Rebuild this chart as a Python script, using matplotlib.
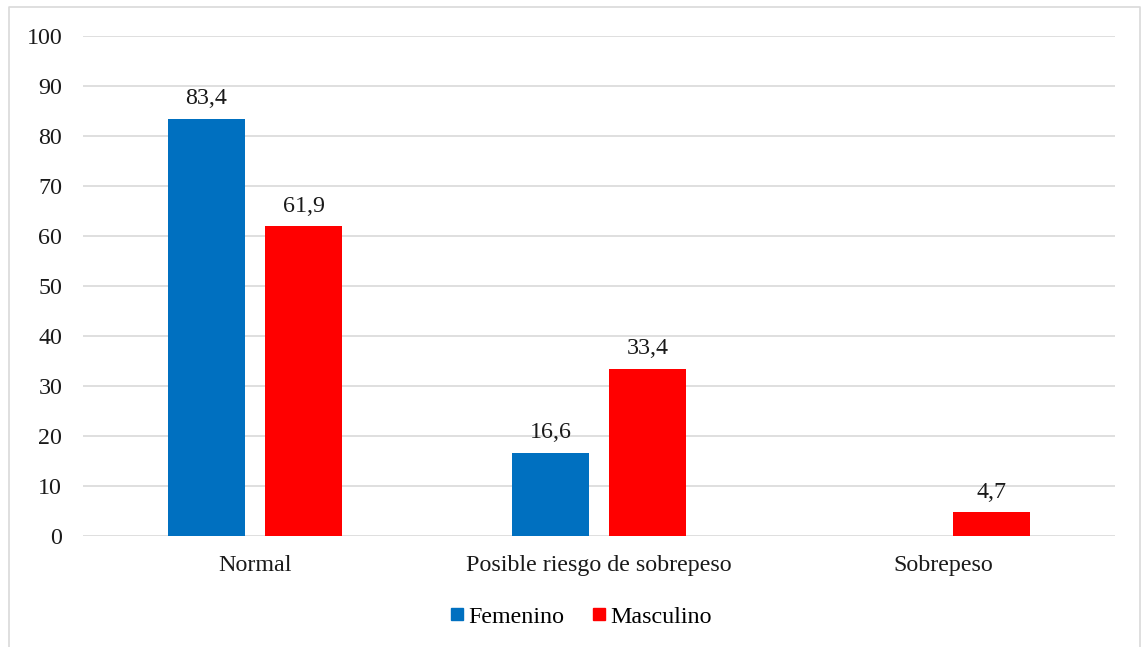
import matplotlib.pyplot as plt
import numpy as np
from matplotlib.lines import Line2D

categories = ["Normal", "Posible riesgo de sobrepeso", "Sobrepeso"]
femenino = [83.4, 16.6, None]
masculino = [61.9, 33.4, 4.7]
series = [("Femenino", femenino, "#0070C0"), ("Masculino", masculino, "#FF0000")]

plt.rcParams["font.family"] = ["Liberation Serif", "DejaVu Serif"]
FS = 17.3

fig = plt.figure(figsize=(11.42, 6.47), dpi=100)
ax = fig.add_axes([0.0727, 0.1716, 0.9037, 0.7728])

x = np.arange(len(categories))
width = 0.224
offsets = [-0.141, 0.141]

for (name, vals, color), off in zip(series, offsets):
    for xi, v in zip(x, vals):
        if v is None:
            continue
        ax.bar(xi + off, v, width=width, color=color, zorder=3)
        ax.annotate(f"{v:.1f}".replace(".", ","), (xi + off, v),
                    xytext=(0, 7), textcoords="offset points",
                    ha="center", va="bottom", fontsize=FS, color="#1a1a1a")

ax.set_xlim(-0.5, len(categories) - 0.5)
ax.set_ylim(0, 100)
ax.set_yticks(range(0, 101, 10))
ax.set_xticks(x)
ax.set_xticklabels(categories)
ax.tick_params(axis="both", length=0, labelsize=FS, colors="#1a1a1a")
ax.tick_params(axis="x", pad=14)
ax.tick_params(axis="y", pad=15)
ax.grid(axis="y", color="#D9D9D9", lw=1.2, zorder=0)
for s in ax.spines.values():
    s.set_visible(False)

handles = [Line2D([], [], marker="s", ls="none", markersize=9,
                  markerfacecolor=c, markeredgecolor=c, label=n)
           for n, _, c in series]
fig.legend(handles=handles, loc="center", bbox_to_anchor=(0.508, 0.047),
           ncol=2, frameon=False, fontsize=FS, handletextpad=0.1,
           columnspacing=1.1, handlelength=0.7)

# chart frame (left, top, right edges)
fx = [9 / 1142, 9 / 1142, 1140 / 1142, 1140 / 1142]
fy = [0, 1 - 7 / 647, 1 - 7 / 647, 0]
fig.add_artist(Line2D(fx, fy, transform=fig.transFigure, color="#D9D9D9", lw=1.2))

fig.savefig("out.png", dpi=100)
